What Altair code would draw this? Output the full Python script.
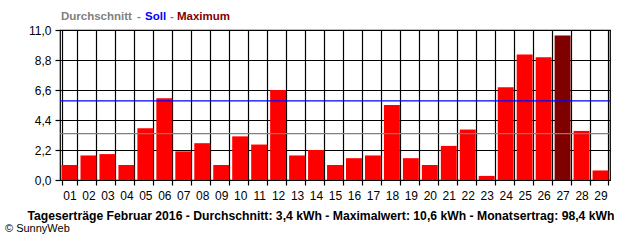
import altair as alt
import pandas as pd

days = ["01", "02", "03", "04", "05", "06", "07", "08", "09", "10",
        "11", "12", "13", "14", "15", "16", "17", "18", "19", "20",
        "21", "22", "23", "24", "25", "26", "27", "28", "29"]
yields = [1.1, 1.8, 1.9, 1.1, 3.8, 6.0, 2.1, 2.7, 1.1, 3.2,
          2.6, 6.6, 1.8, 2.2, 1.1, 1.6, 1.8, 5.5, 1.6, 1.1,
          2.5, 3.7, 0.3, 6.8, 9.2, 9.0, 10.6, 3.6, 0.7]
average = 3.4
target = 5.8
y_ticks = [0.0, 2.2, 4.4, 6.6, 8.8, 11.0]

FONT = "Liberation Sans"

max_val = max(yields)
df = pd.DataFrame({"day": days, "kwh": yields})
df["kind"] = ["max" if v == max_val else "day" for v in yields]

x_enc = alt.X(
    "day:N", sort=days,
    scale=alt.Scale(paddingInner=0.16, paddingOuter=0.08),
    axis=alt.Axis(title=None, labelAngle=0, tickBand="extent", grid=True,
                  gridColor="black", gridOpacity=1, gridWidth=1.2,
                  tickColor="black", tickSize=5, tickWidth=1.2, domain=False,
                  labelFont=FONT, labelFontSize=12, labelColor="black",
                  labelPadding=5, labelOverlap=False),
)
y_enc = alt.Y(
    "kwh:Q",
    scale=alt.Scale(domain=[0, 11], nice=False),
    axis=alt.Axis(title=None, values=y_ticks, tickCount=20, grid=True,
                  gridColor="black", gridOpacity=1, gridWidth=1.2,
                  tickColor="black", tickSize=5, tickWidth=1.2, domain=False,
                  labelFont=FONT, labelFontSize=12, labelColor="black",
                  labelPadding=4, labelOverlap=False, labelFlush=False,
                  labelExpr="replace(format(datum.value, '.1f'), '.', ',')"),
)

bars = alt.Chart(df).mark_bar().encode(
    x=x_enc, y=y_enc,
    color=alt.Color("kind:N", scale=alt.Scale(domain=["day", "max"],
                                               range=["#FF0000", "#800000"]),
                    legend=None),
)

avg_rule = alt.Chart(pd.DataFrame({"v": [average]})).mark_rule(
    color="#808080", strokeWidth=1.2).encode(y="v:Q")
target_rule = alt.Chart(pd.DataFrame({"v": [target]})).mark_rule(
    color="#0000FF", strokeWidth=1.2).encode(y="v:Q")


def label(text, x, y, color="black", size=11.5, weight="bold", align="left"):
    return alt.Chart(pd.DataFrame({"t": [text]})).mark_text(
        font=FONT, fontSize=size, fontWeight=weight, color=color,
        align=align, baseline="middle").encode(
        x=alt.value(x), y=alt.value(y), text="t:N")


legend = [
    label("Durchschnitt", 1, -13, "#808080"),
    label("-", 77, -13, "#808080"),
    label("Soll", 85, -13, "#0000FF"),
    label("-", 110, -13, "#808080"),
    label("Maximum", 117, -13, "#800000"),
]
caption = label(
    "Tageserträge Februar 2016 - Durchschnitt: 3,4 kWh - Maximalwert: 10,6 kWh - Monatsertrag: 98,4 kWh",
    261, 186, "black", 12.2, "bold", "center")
credit = label("© SunnyWeb", -55, 199, "black", 11, "normal", "left")

chart = alt.layer(bars, avg_rule, target_rule, *legend, caption, credit).properties(
    width=550, height=150,
    autosize=alt.AutoSizeParams(type="none"),
    padding={"left": 60, "top": 30, "right": 30, "bottom": 60},
    background="white",
).configure_view(stroke="black", strokeWidth=1.2)

chart.save("out.html", embed_options={"renderer": "svg", "actions": False})
